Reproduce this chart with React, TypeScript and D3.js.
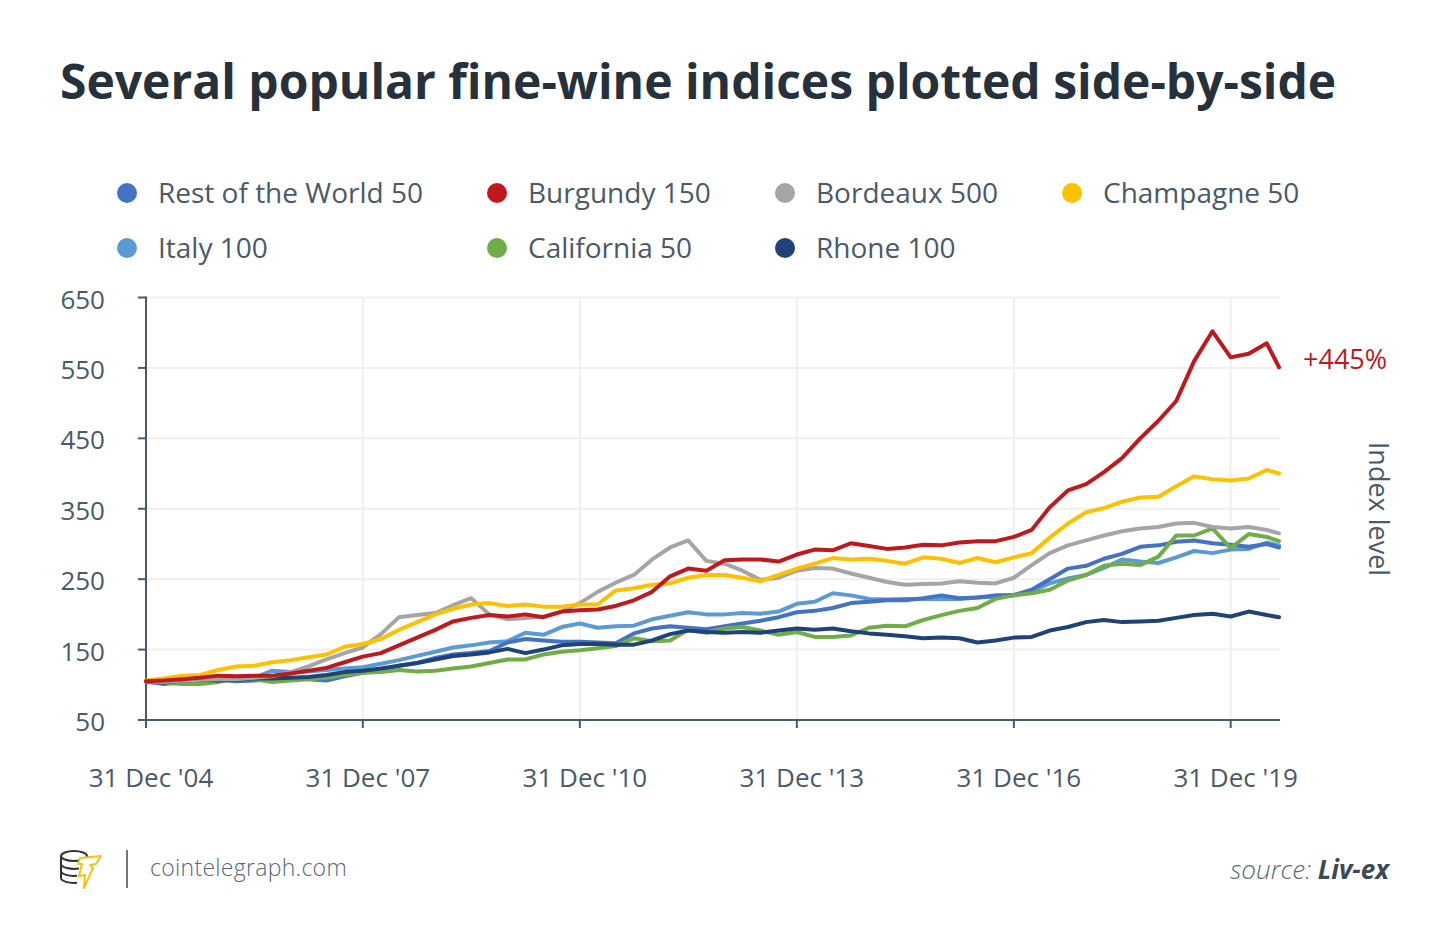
import React from "react";
import * as d3 from "d3";

// quarter-end month offsets from Jan 2005 (0 = 31 Dec '04), last point is Aug 2020
const monthOffsets = d3.range(63).map((i) => i * 3).concat([188]);

const restOfWorld = [
  105, 101, 104, 106, 107, 105, 106, 108, 110, 108,
  106, 112, 117, 121, 127, 131, 138, 143, 145, 148,
  160, 165, 163, 161, 161, 160, 159, 173, 180, 183,
  181, 179, 183, 187, 191, 196, 203, 205, 209, 216,
  218, 220, 220, 223, 227, 223, 224, 227, 227, 235,
  250, 265, 269, 279, 286, 296, 298, 303, 305, 301,
  299, 296, 300, 295,
];
const burgundy = [
  105, 106, 108, 110, 113, 112, 113, 113, 116, 120,
  124, 132, 140, 145, 156, 167, 178, 190, 195, 199,
  197, 200, 196, 204, 206, 207, 212, 220, 232, 254,
  265, 262, 277, 278, 278, 275, 285, 292, 291, 301,
  297, 293, 295, 299, 298, 302, 304, 304, 310, 320,
  352, 376, 385, 402, 422, 450, 475, 503, 560, 602,
  565, 570, 585, 551,
];
const bordeaux = [
  105, 104, 106, 107, 108, 108, 110, 112, 118, 126,
  136, 145, 153, 172, 196, 199, 202, 213, 223, 200,
  193, 195, 197, 204, 216, 232, 245, 256, 278, 295,
  305, 276, 272, 262, 249, 252, 262, 266, 265, 258,
  252, 246, 242, 243, 244, 247, 245, 244, 252, 270,
  287, 298, 305, 312, 318, 322, 324, 329, 330, 324,
  322, 324, 320, 315,
];
const champagne = [
  106, 109, 113, 114, 121, 126, 127, 132, 135, 139,
  143, 154, 158, 165, 178, 189, 200, 208, 214, 216,
  212, 214, 211, 211, 214, 214, 234, 237, 242, 244,
  252, 256, 256, 252, 247, 256, 265, 272, 280, 278,
  279, 276, 272, 281, 279, 273, 280, 274, 281, 287,
  309, 329, 345, 351, 360, 366, 367, 382, 396, 392,
  390, 393, 405, 400,
];
const italy = [
  104, 103, 105, 107, 108, 109, 110, 120, 118, 119,
  121, 123, 125, 130, 135, 141, 147, 153, 156, 160,
  162, 174, 171, 182, 187, 181, 183, 184, 193, 198,
  203, 200, 200, 202, 201, 204, 215, 218, 230, 227,
  222, 221, 222, 222, 222, 222, 224, 225, 228, 233,
  244, 251, 256, 266, 278, 275, 273, 281, 290, 287,
  292, 293, 302, 298,
];
const california = [
  105, 103, 101, 101, 104, 110, 108, 104, 106, 108,
  110, 114, 117, 118, 121, 119, 120, 123, 126, 131,
  136, 136, 143, 147, 149, 152, 155, 166, 162, 163,
  178, 174, 180, 182, 177, 171, 175, 168, 168, 170,
  181, 184, 183, 192, 199, 205, 209, 222, 227, 230,
  235, 248, 256, 269, 272, 270, 282, 312, 312, 322,
  294, 314, 310, 304,
];
const rhone = [
  105, 103, 106, 107, 106, 107, 109, 109, 110, 111,
  114, 118, 120, 123, 127, 131, 136, 141, 143, 146,
  151, 145, 150, 156, 158, 158, 157, 157, 163, 172,
  177, 175, 174, 175, 174, 177, 180, 178, 180, 176,
  173, 171, 169, 166, 167, 166, 160, 163, 167, 168,
  177, 182, 189, 192, 189, 190, 191, 195, 199, 201,
  197, 204, 199, 196,
];

const yTicks = [50, 150, 250, 350, 450, 550, 650];
const xTickYears = [2004, 2007, 2010, 2013, 2016, 2019];

const legendRows = [
  [
    { name: "Rest of the World 50", color: "#4472c4" },
    { name: "Burgundy 150", color: "#c0181c" },
    { name: "Bordeaux 500", color: "#a5a5a5" },
    { name: "Champagne 50", color: "#ffc000" },
  ],
  [
    { name: "Italy 100", color: "#5b9bd5" },
    { name: "California 50", color: "#70ad47" },
    { name: "Rhone 100", color: "#1f4278" },
  ],
];
const legendX = [127, 497, 785, 1072];

// drawing order (bottom first)
const seriesList = [
  { key: "Italy 100", color: "#5b9bd5", values: italy },
  { key: "Rest of the World 50", color: "#4472c4", values: restOfWorld },
  { key: "California 50", color: "#70ad47", values: california },
  { key: "Rhone 100", color: "#1f4278", values: rhone },
  { key: "Bordeaux 500", color: "#a5a5a5", values: bordeaux },
  { key: "Champagne 50", color: "#ffc000", values: champagne },
  { key: "Burgundy 150", color: "#c0181c", values: burgundy },
];

const FONT = "'Open Sans', 'Noto Sans', sans-serif";
const TEXT = "#4b5a67";

export default function App() {
  const left = 146;
  const right = 1279;
  const top = 297.5;
  const bottom = 720;

  const dates = monthOffsets.map((m) => new Date(2005, m, 0));
  const x = d3
    .scaleTime()
    .domain([new Date(2004, 11, 31), new Date(2020, 7, 31)])
    .range([left, right]);
  const y = d3.scaleLinear().domain([50, 650]).range([bottom, top]);

  const line = d3
    .line<number>()
    .x((_, i) => x(dates[i]))
    .y((d) => y(d));

  const xTicks = xTickYears.map((yr) => new Date(yr, 11, 31));

  return (
    <svg
      width={1450}
      height={949}
      style={{ position: "absolute", left: 0, top: 0, background: "#fff" }}
      fontFamily={FONT}
    >
      <rect width={1450} height={949} fill="#fff" />
      <text x={60} y={99} fontSize={48} fontWeight={700} fill="#26313b">
        Several popular fine-wine indices plotted side-by-side
      </text>

      {legendRows.map((row, r) =>
        row.map((item, c) => (
          <g key={item.name} transform={`translate(${legendX[c]},${193 + r * 55})`}>
            <circle r={10} fill={item.color} />
            <text x={31} y={10} fontSize={28} fill={TEXT}>
              {item.name}
            </text>
          </g>
        ))
      )}

      {/* grid */}
      {yTicks.map((t) => (
        <line key={"gy" + t} x1={left} x2={right + 1} y1={y(t)} y2={y(t)} stroke="#efefef" strokeWidth={2} />
      ))}
      {xTicks.map((d, i) => (
        <line key={"gx" + i} x1={x(d)} x2={x(d)} y1={top} y2={bottom} stroke="#efefef" strokeWidth={2} />
      ))}

      {/* y axis */}
      <line x1={left} x2={left} y1={top - 1} y2={bottom} stroke="#4b5a67" strokeWidth={2} />
      {yTicks.map((t) => (
        <g key={"ty" + t}>
          <line x1={left - 8} x2={left} y1={y(t)} y2={y(t)} stroke="#4b5a67" strokeWidth={2} />
          <text x={105} y={y(t) + 11} fontSize={26} textAnchor="end" fill={TEXT}>
            {t}
          </text>
        </g>
      ))}

      {/* x axis */}
      <line x1={left} x2={right + 1} y1={bottom} y2={bottom} stroke="#4b5a67" strokeWidth={2} />
      {xTicks.map((d, i) => (
        <g key={"tx" + i}>
          <line x1={x(d)} x2={x(d)} y1={bottom} y2={bottom + 8} stroke="#4b5a67" strokeWidth={2} />
          <text x={x(d) + 5} y={787} fontSize={26} textAnchor="middle" fill={TEXT}>
            {d3.timeFormat("%d %b '%y")(d)}
          </text>
        </g>
      ))}

      {/* lines */}
      {seriesList.map((s) => (
        <path
          key={s.key}
          d={line(s.values) || ""}
          fill="none"
          stroke={s.color}
          strokeWidth={4}
          strokeLinejoin="round"
          strokeLinecap="round"
        />
      ))}

      <text x={1303} y={369} fontSize={27} fill="#c0181c">
        +445%
      </text>
      <text
        transform="translate(1369,509) rotate(90)"
        fontSize={27}
        textAnchor="middle"
        fill={TEXT}
      >
        Index level
      </text>

      {/* footer */}
      <g fill="none" strokeWidth={2}>
        <ellipse cx={74} cy={856} rx={13} ry={5} stroke="#333" />
        <path d="M61 856 v22 M87 856 v6 M61 864 a13 5 0 0 0 18 4.5 M61 871 a13 5 0 0 0 16 4.8 M61 878 a13 5 0 0 0 16 4.8" stroke="#333" />
        <path d="M80 858 L101 856 L96 864 L90 865 L93 868 L84 888 L85 875 L79 876 L82 864 L78 864 Z" stroke="#f5c21b" strokeLinejoin="round" fill="#fff" />
      </g>
      <line x1={127} x2={127} y1={850} y2={888} stroke="#777" strokeWidth={2} />
      <text x={150} y={876} fontSize={23} fontWeight={300} fill="#5a6875" letterSpacing={0.3}>
        cointelegraph.com
      </text>
      <text x={1389} y={879} fontSize={26} textAnchor="end" fontStyle="italic" fill="#5a6875">
        <tspan fontWeight={300}>source: </tspan>
        <tspan fontWeight={700} fill="#3d4a56">Liv-ex</tspan>
      </text>
    </svg>
  );
}
